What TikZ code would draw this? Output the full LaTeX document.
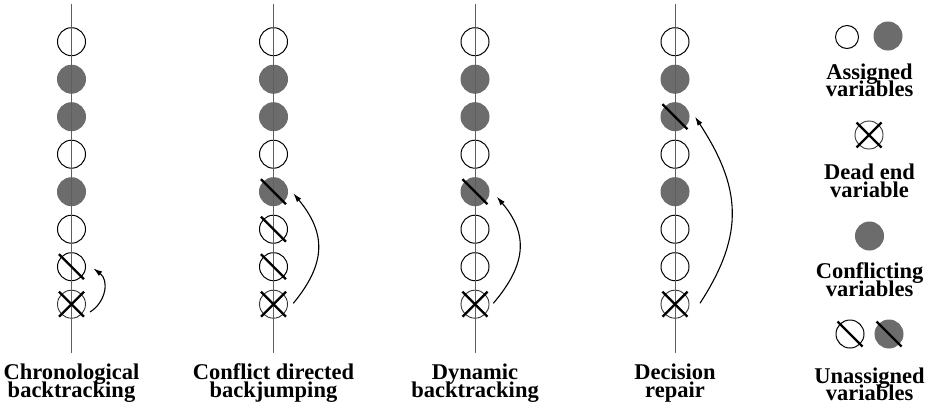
\documentclass[tikz,border=0pt]{standalone}
\usepackage{fontspec}
\setmainfont{Liberation Serif}
\usetikzlibrary{arrows.meta}
\definecolor{cfill}{RGB}{108,108,108}
\definecolor{cline}{RGB}{95,95,95}
\newcommand\slashit[1]{\draw[slashline] ([shift={(-12.5,-12.5)}]#1.center) -- ([shift={(12.5,12.5)}]#1.center);}
\newcommand\crossit[1]{\draw[slashline] ([shift={(-12.5,-12.5)}]#1.center) -- ([shift={(12.5,12.5)}]#1.center);
  \draw[slashline] ([shift={(12.5,-12.5)}]#1.center) -- ([shift={(-12.5,12.5)}]#1.center);}
\begin{document}
\begin{tikzpicture}[x=1pt,y=-1pt,
  wc/.style={circle,draw,line width=1pt,inner sep=0pt,minimum size=28pt},
  gc/.style={circle,fill=cfill,draw=cfill,line width=1pt,inner sep=0pt,minimum size=28pt},
  dc/.style={circle,draw=black!80,line width=0.9pt,inner sep=0pt,minimum size=28pt},
  vline/.style={draw=cline,line width=0.9pt},
  slashline/.style={line width=2.3pt},
  arr/.style={line width=1.1pt,-{Latex[length=9pt,width=5.5pt]}},
  lab/.style={anchor=base,inner sep=0pt,font=\fontsize{22.5}{18}\selectfont\bfseries}]
\useasboundingbox (0,0) rectangle (933,405);

% Column 1
\node[wc] (A1) at (71.5,41.7) {};
\node[gc] (A2) at (71.5,79.2) {};
\node[gc] (A3) at (71.5,116.7) {};
\node[wc] (A4) at (71.5,154.2) {};
\node[gc] (A5) at (71.5,191.7) {};
\node[wc] (A6) at (71.5,229.2) {};
\node[wc] (A7) at (71.5,266.7) {};
\node[dc] (A8) at (71.5,304.2) {};
\coordinate (At) at (71.5,4); \coordinate (Ab) at (71.5,353);
\draw[vline] (At) -- (Ab);
\slashit{A7}
\crossit{A8}
\draw[arr] ([shift={(18.5,7.8)}]A8.center) .. controls +(16,-10) and +(16,12) .. ([shift={(21.8,1.6)}]A7.center);

% Column 2
\node[wc] (B1) at (273.5,41.7) {};
\node[gc] (B2) at (273.5,79.2) {};
\node[gc] (B3) at (273.5,116.7) {};
\node[wc] (B4) at (273.5,154.2) {};
\node[gc] (B5) at (273.5,191.7) {};
\node[wc] (B6) at (273.5,229.2) {};
\node[wc] (B7) at (273.5,266.7) {};
\node[dc] (B8) at (273.5,304.2) {};
\coordinate (Bt) at (273.5,4); \coordinate (Bb) at (273.5,353);
\draw[vline] (Bt) -- (Bb);
\slashit{B5}
\slashit{B6}
\slashit{B7}
\crossit{B8}
\draw[arr] ([shift={(19.8,-0.9)}]B8.center) .. controls +(33,-40) and +(33,40) .. ([shift={(19.8,1.6)}]B5.center);

% Column 3
\node[wc] (C1) at (475,41.7) {};
\node[gc] (C2) at (475,79.2) {};
\node[gc] (C3) at (475,116.7) {};
\node[wc] (C4) at (475,154.2) {};
\node[gc] (C5) at (475,191.7) {};
\node[wc] (C6) at (475,229.2) {};
\node[wc] (C7) at (475,266.7) {};
\node[dc] (C8) at (475,304.2) {};
\coordinate (Ct) at (475,4); \coordinate (Cb) at (475,353);
\draw[vline] (Ct) -- (Cb);
\slashit{C5}
\crossit{C8}
\draw[arr] ([shift={(18.3,-0.9)}]C8.center) .. controls +(32.5,-38) and +(32.5,38) .. ([shift={(21.7,5)}]C5.center);

% Column 4
\node[wc] (D1) at (675,41.7) {};
\node[gc] (D2) at (675,79.2) {};
\node[gc] (D3) at (675,116.7) {};
\node[wc] (D4) at (675,154.2) {};
\node[gc] (D5) at (675,191.7) {};
\node[wc] (D6) at (675,229.2) {};
\node[wc] (D7) at (675,266.7) {};
\node[dc] (D8) at (675,304.2) {};
\coordinate (Dt) at (675,4); \coordinate (Db) at (675,353);
\draw[vline] (Dt) -- (Db);
\slashit{D3}
\crossit{D8}
\draw[arr] ([shift={(25,-1)}]D8.center) .. controls +(45.6,-70) and +(45.6,70) .. ([shift={(20,0)}]D3.center);

% Bottom labels
\node[lab] (T1a) at (71.5,379) {Chronological};
\node[lab] (T1b) at (71.5,397) {backtracking};
\node[lab] (T2a) at (273.5,379) {Conflict directed};
\node[lab] (T2b) at (273.5,397) {backjumping};
\node[lab] (T3a) at (475,379) {Dynamic};
\node[lab] (T3b) at (475,397) {backtracking};
\node[lab] (T4a) at (675,379) {Decision};
\node[lab] (T4b) at (675,397) {repair};

% Legend
\node[wc,minimum size=23pt] (L1) at (847,37) {};
\node[gc] (L2) at (888,36) {};
\node[lab] (L1a) at (869.5,79) {Assigned};
\node[lab] (L1b) at (869.5,96) {variables};
\node[dc] (L3) at (869,135) {};
\crossit{L3}
\node[lab] (L3a) at (869.5,179) {Dead end};
\node[lab] (L3b) at (869.5,197) {variable};
\node[gc] (L4) at (869.5,236) {};
\node[lab] (L4a) at (869.5,278) {Conflicting};
\node[lab] (L4b) at (869.5,296) {variables};
\node[wc] (L5) at (850,334) {};
\node[gc] (L6) at (889,334) {};
\slashit{L5}
\slashit{L6}
\node[lab] (L5a) at (869.5,383) {Unassigned};
\node[lab] (L5b) at (869.5,400) {variables};
\end{tikzpicture}
\end{document}
